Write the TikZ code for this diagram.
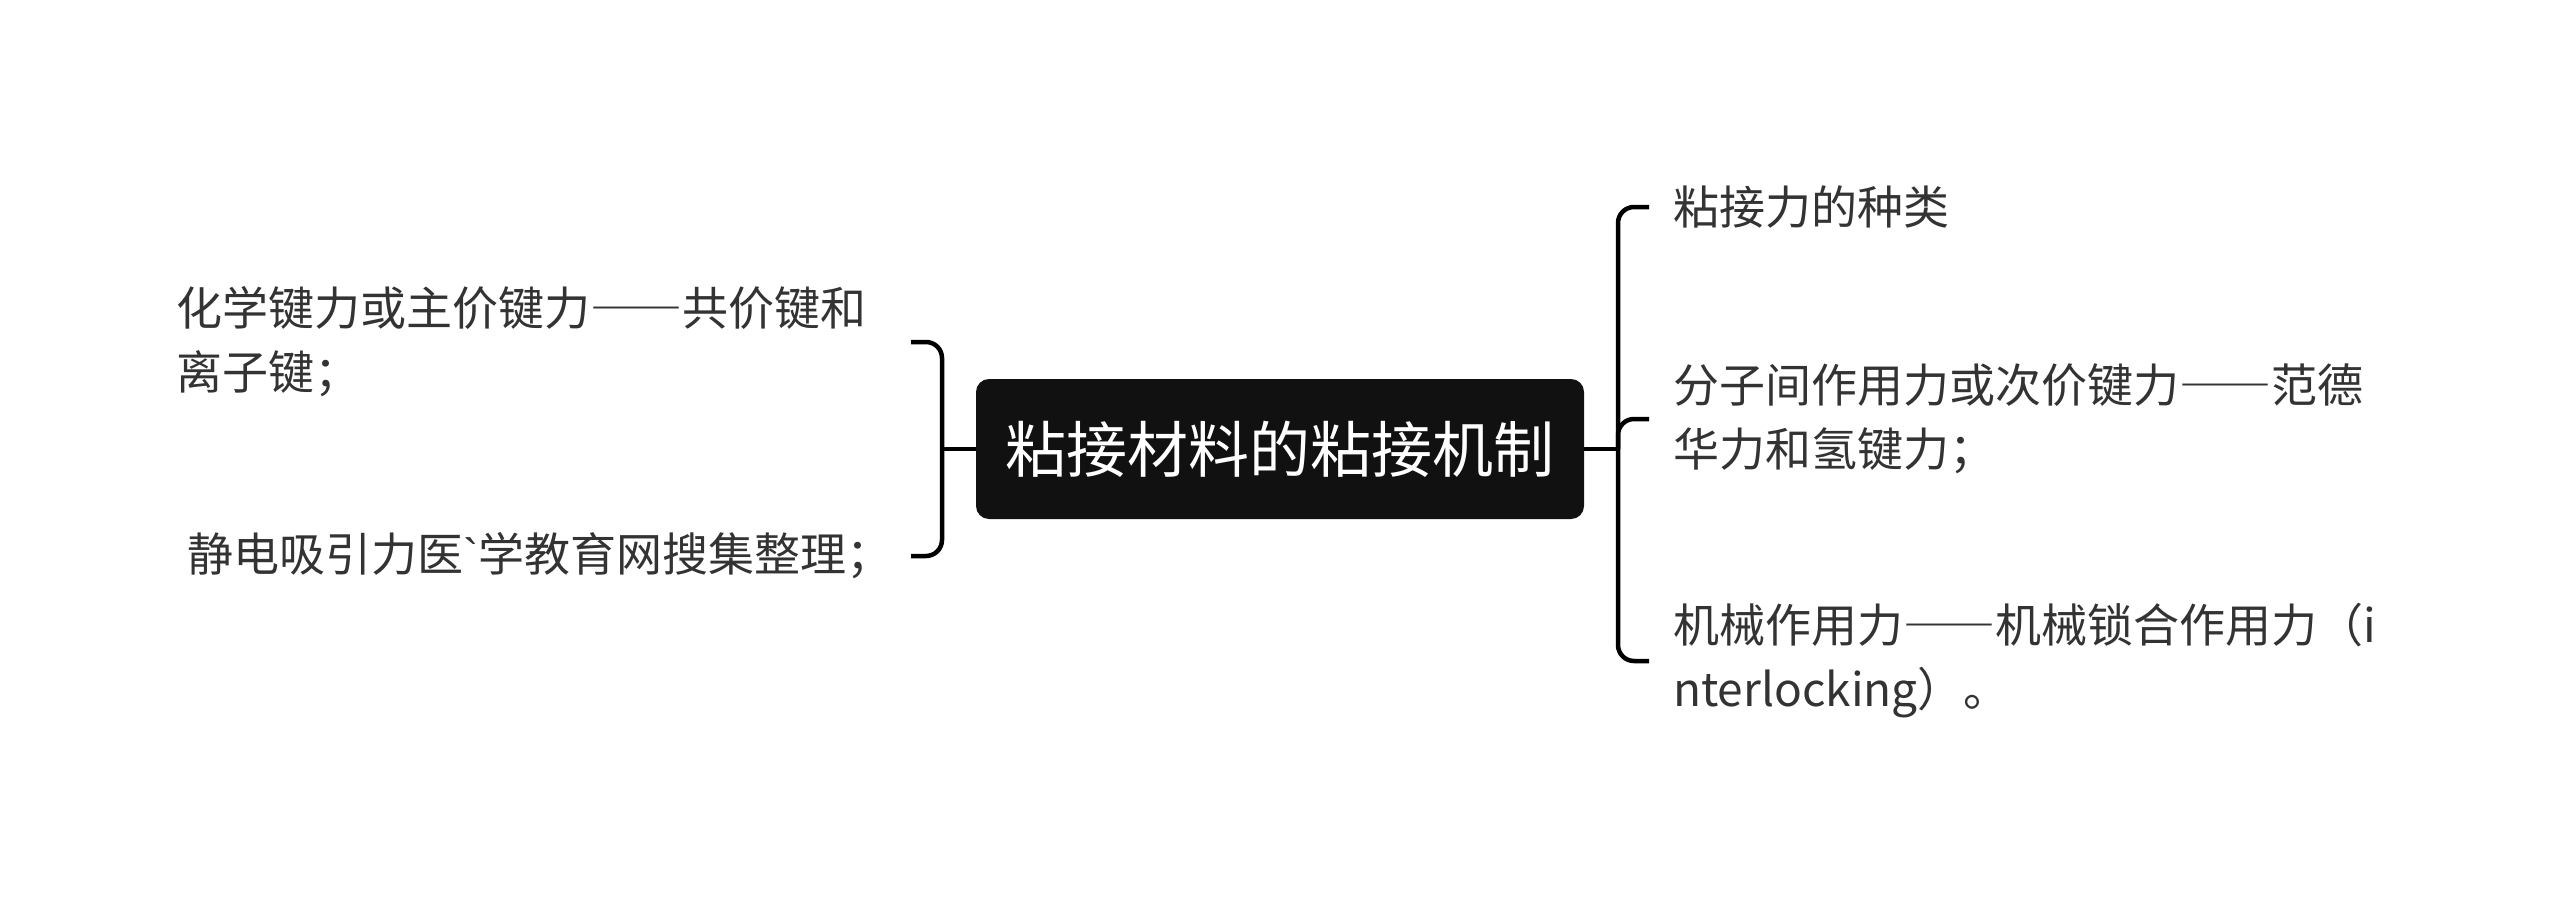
\documentclass[tikz,border=0pt]{standalone}
\usepackage{fontspec}
\setmainfont{Noto Sans CJK SC}
\newfontfamily\latinfont{Liberation Sans}
\definecolor{txt}{HTML}{333333}
\definecolor{boxfill}{HTML}{111111}
\newcommand{\fwdash}{{\addfontfeature{CharacterWidth=Full}——}}
\newcommand{\gravechar}{{\latinfont\symbol{96}}}
\tikzset{
  conn/.style={line width=4.5pt, black, rounded corners=16pt},
  leaf/.style={anchor=west, inner sep=0pt, align=left, text=txt, font=\fontsize{46}{64}\selectfont},
  central/.style={fill=boxfill, rounded corners=13pt, minimum width=608pt, minimum height=140pt, inner sep=0pt, text=white, font=\fontsize{61}{70}\selectfont}
}
\begin{document}
\begin{tikzpicture}[x=1pt,y=-1pt]
\useasboundingbox[fill=white] (0,0) rectangle (2560,899);
% central
\node[central] (c) at (1280,449) {粘接材料的粘接机制};
% left leaves
\node[leaf] (l1) at (176,342) {化学键力或主价键力\fwdash 共价键和\\离子键；};
\node[leaf] (l2) at (187,556) {静电吸引力医\gravechar 学教育网搜集整理；};
% right leaves
\node[leaf] (r1) at (1673,207) {粘接力的种类};
\node[leaf] (r2) at (1673,419) {分子间作用力或次价键力\fwdash 范德\\华力和氢键力；};
\node[leaf] (r3) at (1673,661) {机械作用力\fwdash 机械锁合作用力（i\\nterlocking）。};
% left bracket
\coordinate (lj) at (942,449);
\coordinate (lh1) at ([xshift=735pt]l1.west);
\coordinate (lh2) at ([xshift=724pt]l2.west);
\draw[conn] (c.west) -- (lj);
\draw[conn] (lh1) -- (lj |- lh1) -- (lj |- lh2) -- (lh2);
% right bracket
\coordinate (rj) at (1618,449);
\coordinate (rh1) at ([xshift=-24pt]r1.west);
\coordinate (rh2) at ([xshift=-24pt]r2.west);
\coordinate (rh3) at ([xshift=-24pt]r3.west);
\draw[conn] (c.east) -- (rj);
\draw[conn] (rh1) -- (rj |- rh1) -- (rj |- rh3) -- (rh3);
\draw[conn] (rj) -- (rj |- rh2) -- (rh2);
\end{tikzpicture}
\end{document}
